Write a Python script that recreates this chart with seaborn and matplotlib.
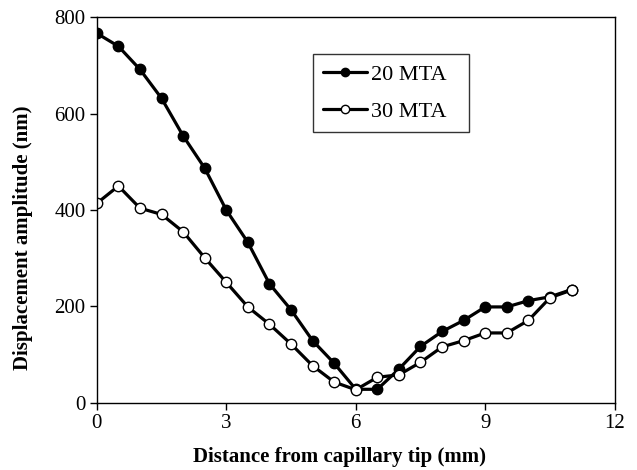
import seaborn as sns
import matplotlib.pyplot as plt
import pandas as pd

# distance from capillary tip (mm)
distance = [0, 0.5, 1, 1.5, 2, 2.5, 3, 3.5, 4, 4.5, 5, 5.5,
            6, 6.5, 7, 7.5, 8, 8.5, 9, 9.5, 10, 10.5, 11]
# displacement amplitude (nm)
mta20 = [767, 740, 692, 632, 554, 487, 400, 333, 247, 193, 129, 82,
         28, 28, 70, 117, 148, 171, 199, 199, 212, 220, 235]
mta30 = [414, 450, 404, 391, 355, 301, 250, 199, 163, 122, 77, 43,
         27, 53, 58, 84, 116, 129, 145, 145, 171, 218, 234]

df = pd.DataFrame({"distance": distance, "20 MTA": mta20, "30 MTA": mta30})

sns.set_style("ticks", rc={"text.color": "black", "axes.labelcolor": "black",
                           "xtick.color": "black", "ytick.color": "black",
                           "axes.edgecolor": "black"})
plt.rcParams["font.family"] = ["Liberation Serif", "DejaVu Serif"]

fig, ax = plt.subplots(figsize=(6.37, 4.70), dpi=100)
fig.subplots_adjust(left=0.152, right=0.965, top=0.963, bottom=0.143)

sns.lineplot(data=df, x="distance", y="20 MTA", ax=ax, color="black",
             linewidth=2.3, marker="o", markersize=7.5,
             markerfacecolor="black", markeredgecolor="black",
             markeredgewidth=1, label="20 MTA")
sns.lineplot(data=df, x="distance", y="30 MTA", ax=ax, color="black",
             linewidth=2.3, marker="o", markersize=7.5,
             markerfacecolor="white", markeredgecolor="black",
             markeredgewidth=1, label="30 MTA")

ax.set_xlim(0, 12)
ax.set_ylim(0, 800)
ax.set_xticks([0, 3, 6, 9, 12])
ax.set_yticks([0, 200, 400, 600, 800])
ax.tick_params(labelsize=15, direction="out", length=5, width=1, pad=3)
for s in ax.spines.values():
    s.set_linewidth(1)

ax.set_xlabel("Distance from capillary tip (mm)", fontsize=15, fontweight="bold")
ax.set_ylabel("Displacement amplitude (nm)", fontsize=15, fontweight="bold")
ax.xaxis.set_label_coords(0.469, -0.114)
ax.yaxis.set_label_coords(-0.123, 0.429)

leg = ax.legend(loc="upper left", bbox_to_anchor=(0.417, 0.712, 0.301, 0.193),
                mode="expand", fontsize=16, markerscale=0.8,
                frameon=True, fancybox=False, edgecolor="black",
                borderaxespad=0, handlelength=2.0, handletextpad=0.15,
                borderpad=0.45, labelspacing=0.74)
leg.get_frame().set_linewidth(1)

fig.savefig("out.png", dpi=100)
